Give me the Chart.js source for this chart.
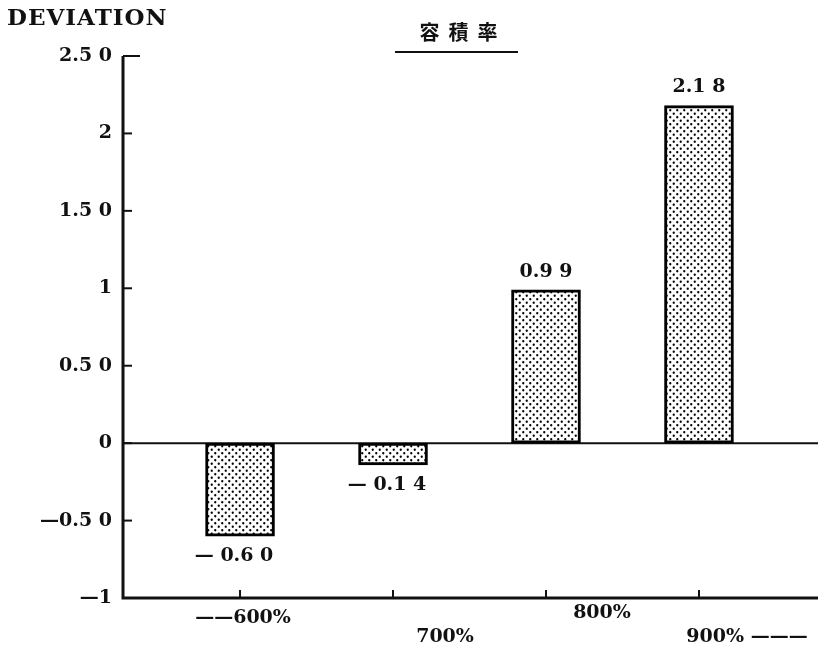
<!DOCTYPE html>
<html>
<head>
<meta charset="utf-8">
<script src="https://cdn.jsdelivr.net/npm/chart.js@4/dist/chart.umd.min.js"></script>
<style>
html,body{margin:0;padding:0;background:#fff;}
canvas{display:block;}
</style>
</head>
<body>
<canvas id="c" width="818" height="653"></canvas>
<script>
// ---- data ----
const categories = ['600%', '700%', '800%', '900%'];
const categoryPositions = [6, 7, 8, 9];
const deviations = [-0.60, -0.14, 0.99, 2.18];
const valueLabels = ['— 0.6 0', '— 0.1 4', '0.9 9', '2.1 8'];
const yTickValues = [2.5, 2, 1.5, 1, 0.5, 0, -0.5, -1];
const yTickLabels = ['2.5 0', '2', '1.5 0', '1', '0.5 0', '0', '—0.5 0', '—1'];
const xAxisLabels = ['——600%', '700%', '800%', '900% ———'];
const titleText = '容積率';
const yAxisTitle = 'DEVIATION';

// ---- layout / style (not data) ----
const xLabelOffsets = [[3, 20], [52, 39], [56, 15], [48, 39]];
const SERIF = '"DejaVu Serif", "Liberation Serif", serif';
const INK = '#111';

function makeDotPattern() {
  const c = document.createElement('canvas');
  c.width = 7; c.height = 7;
  const g = c.getContext('2d');
  g.fillStyle = '#fff';
  g.fillRect(0, 0, 7, 7);
  g.fillStyle = '#000';
  [[1.75, 1.75], [5.25, 5.25]].forEach(([x, y]) => {
    g.beginPath(); g.arc(x, y, 1.15, 0, Math.PI * 2); g.fill();
  });
  return g.createPattern(c, 'repeat');
}

const decor = {
  id: 'decor',
  beforeDatasetsDraw(chart) {
    const {ctx, chartArea, scales: {y}} = chart;
    ctx.save();
    ctx.strokeStyle = INK;
    ctx.lineWidth = 2;
    const y0 = y.getPixelForValue(0);
    ctx.beginPath(); ctx.moveTo(chartArea.left, y0); ctx.lineTo(chartArea.right, y0); ctx.stroke();
    ctx.restore();
  },
  afterDatasetsDraw(chart) {
    const {ctx, chartArea, scales: {x, y}} = chart;
    ctx.save();
    ctx.strokeStyle = INK;
    ctx.fillStyle = INK;
    // axes
    const yTop = y.getPixelForValue(y.max);
    const yBot = y.getPixelForValue(y.min);
    ctx.lineWidth = 3;
    ctx.beginPath();
    ctx.moveTo(chartArea.left, yTop);
    ctx.lineTo(chartArea.left, yBot);
    ctx.lineTo(chartArea.right, yBot);
    ctx.stroke();
    // y ticks (inward) and labels
    ctx.lineWidth = 2;
    ctx.font = 'bold 19px ' + SERIF;
    ctx.textAlign = 'right';
    ctx.textBaseline = 'middle';
    yTickValues.forEach((v, i) => {
      const py = y.getPixelForValue(v);
      const len = i === 0 ? 17 : 9;
      ctx.beginPath(); ctx.moveTo(chartArea.left, py); ctx.lineTo(chartArea.left + len, py); ctx.stroke();
      ctx.fillText(yTickLabels[i], chartArea.left - 11, py);
    });
    // x ticks (inward) and labels
    ctx.textAlign = 'center';
    categoryPositions.forEach((v, i) => {
      const px = x.getPixelForValue(v);
      ctx.beginPath(); ctx.moveTo(px, yBot); ctx.lineTo(px, yBot - 8); ctx.stroke();
      ctx.fillText(xAxisLabels[i], px + xLabelOffsets[i][0], yBot + xLabelOffsets[i][1]);
    });
    // value labels
    const meta = chart.getDatasetMeta(0);
    meta.data.forEach((bar, i) => {
      const v = deviations[i];
      const py = v >= 0 ? bar.y - 18 : bar.y + 20;
      ctx.fillText(valueLabels[i], bar.x - (v < 0 ? 6 : 0), py);
    });
    // y title
    ctx.textAlign = 'left';
    ctx.font = 'bold 23px ' + SERIF;
    ctx.letterSpacing = '1px';
    ctx.fillText(yAxisTitle, 7, 19);
    // chart title with underline
    ctx.font = 'bold 20px "Noto Sans CJK JP", sans-serif';
    ctx.textAlign = 'center';
    ctx.letterSpacing = '9px';
    ctx.fillText(titleText, 463, 32);
    ctx.letterSpacing = '0px';
    ctx.lineWidth = 2;
    ctx.beginPath(); ctx.moveTo(395, 52); ctx.lineTo(518, 52); ctx.stroke();
    ctx.restore();
  }
};

new Chart(document.getElementById('c'), {
  type: 'bar',
  data: {
    labels: categories,
    datasets: [{
      label: titleText,
      data: categoryPositions.map((p, i) => ({x: p, y: deviations[i]})),
      backgroundColor: makeDotPattern(),
      borderColor: '#000',
      borderWidth: 3,
      borderSkipped: false,
      barThickness: 69
    }]
  },
  options: {
    responsive: false,
    animation: false,
    layout: {padding: {left: 123, top: 56, right: 0, bottom: 55}},
    plugins: {legend: {display: false}, tooltip: {enabled: false}, title: {display: false}},
    scales: {
      x: {type: 'linear', offset: false, min: 5.235, max: 9.778, display: false},
      y: {min: -1, max: 2.5, display: false}
    }
  },
  plugins: [decor]
});
</script>
</body>
</html>
